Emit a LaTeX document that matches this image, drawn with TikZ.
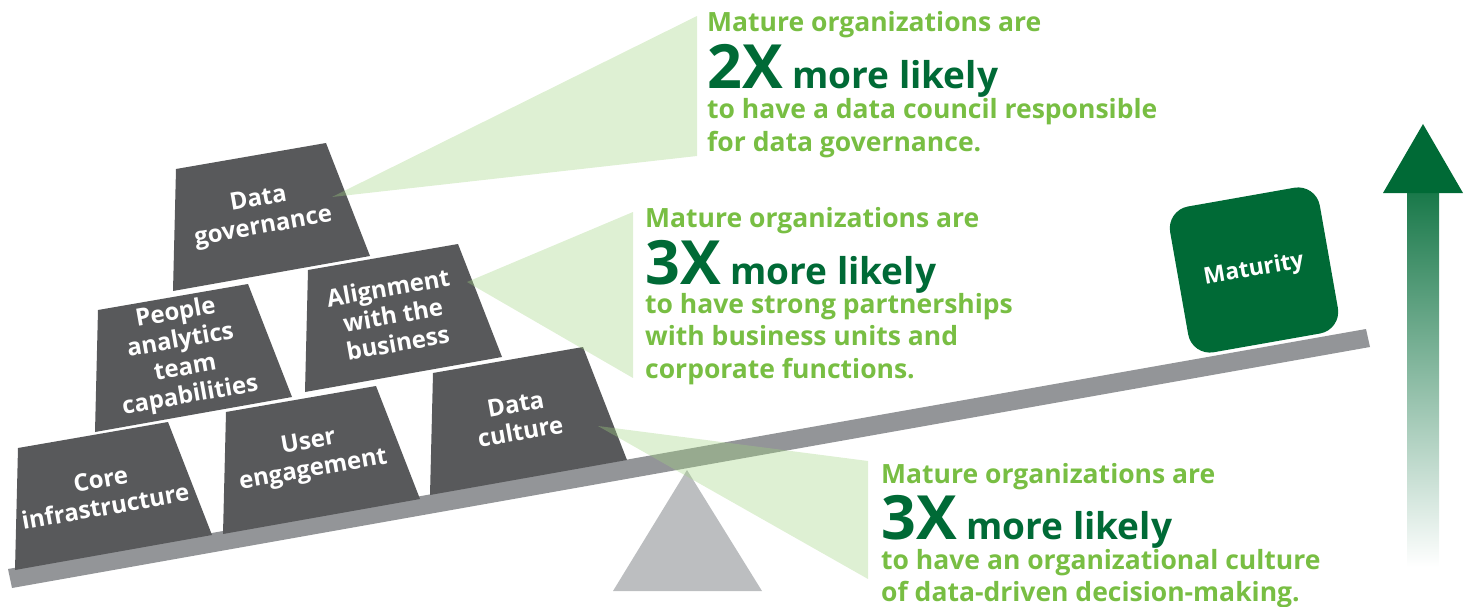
\documentclass[tikz,border=0pt]{standalone}
\usepackage{fontspec}
\setmainfont{Open Sans}
\usepackage{tikz}
\usetikzlibrary{
	positioning
}

\definecolor{brickgray}{HTML}{58595B}
\definecolor{beamgray}{HTML}{939598}
\definecolor{propgray}{HTML}{BCBEC0}
\definecolor{leaf}{RGB}{120,190,67}
\definecolor{forest}{RGB}{0,106,54}
\definecolor{wedgegreen}{RGB}{161,212,129}

\begin{document}
\begin{tikzpicture}[
		x=1pt,y=-1pt,
		brick/.style={fill=brickgray},
		bricktext/.style={text=white,align=center,rotate=10,inner sep=0pt,
			font=\bfseries\fontsize{24}{28}\selectfont},
		note/.style={anchor=base west,inner sep=0pt,text=leaf,
			font=\bfseries\fontsize{26.5}{32}\selectfont},
		likely/.style={anchor=base west,inner sep=0pt,text=forest,
			font=\bfseries\fontsize{37}{40}\selectfont},
		wedge/.style={fill=wedgegreen,fill opacity=0.35},
		maturity/.style={fill=forest,rounded corners=22pt,minimum width=152pt,
			minimum height=148pt,rotate=10,text=white,
			font=\bfseries\fontsize{23}{28}\selectfont}
	]
	\useasboundingbox (0,0) rectangle (1475,607);

	% seesaw
	\fill[propgray] (687,470) -- (762,591) -- (613,591) -- cycle;
	\fill[beamgray] (8,569) -- (1366,329) -- (1370,347) -- (12,588) -- cycle;

	% bricks of the pyramid
	\foreach \name/\px/\py/\txt in {gov/176/169/{Data\\governance},
			people/98/310/{People\\analytics\\team\\capabilities},
			align/308/270/{Alignment\\with the\\business},
			core/18/448/{Core\\infrastructure},
			user/226/412/{User\\engagement},
			culture/433/373/{Data\\culture}} {
		\fill[brick] (\px,\py) -- ++(150,-26) -- ++(44,113) -- ++(-197,35) -- cycle;
		\node[bricktext] (\name) at (\px+85,\py+45) {\txt};
	}

	\node[maturity] (mat) at (1254,270) {Maturity};

	% callout wedges
	\coordinate (gov-tip)     at (332,197);
	\coordinate (align-tip)   at (467,282);
	\coordinate (culture-tip) at (598,426);
	\fill[wedge] (gov-tip)     -- (697,16)  -- (697,156) -- cycle;
	\fill[wedge] (align-tip)   -- (633,212) -- (633,378) -- cycle;
	\fill[wedge] (culture-tip) -- (868,461) -- (868,579) -- cycle;

	% notes
	\node[note]   (gov-a) at (707,32)  {Mature organizations are};
	\node[likely] (gov-b) at (707,89)  {{\fontsize{61}{64}\selectfont 2X} more likely};
	\node[note]   (gov-c) at (707,119) {to have a data council responsible};
	\node[note]   (gov-d) at (707,152) {for data governance.};

	\node[note]   (align-a) at (645,227) {Mature organizations are};
	\node[likely] (align-b) at (645,284) {{\fontsize{61}{64}\selectfont 3X} more likely};
	\node[note]   (align-c) at (645,313) {to have strong partnerships};
	\node[note]   (align-d) at (645,345) {with business units and};
	\node[note]   (align-e) at (645,378) {corporate functions.};

	\node[note]   (culture-a) at (881,483) {Mature organizations are};
	\node[likely] (culture-b) at (881,539) {{\fontsize{61}{64}\selectfont 3X} more likely};
	\node[note]   (culture-c) at (881,569) {to have an organizational culture};
	\node[note]   (culture-d) at (881,601) {of data-driven decision-making.};

	% maturity arrow
	\shade[top color=forest!90,middle color=forest!55,bottom color=white]
		(1407,193) rectangle (1439,567);
	\fill[forest] (1423,124) -- (1463,193) -- (1383,193) -- cycle;
\end{tikzpicture}
\end{document}
